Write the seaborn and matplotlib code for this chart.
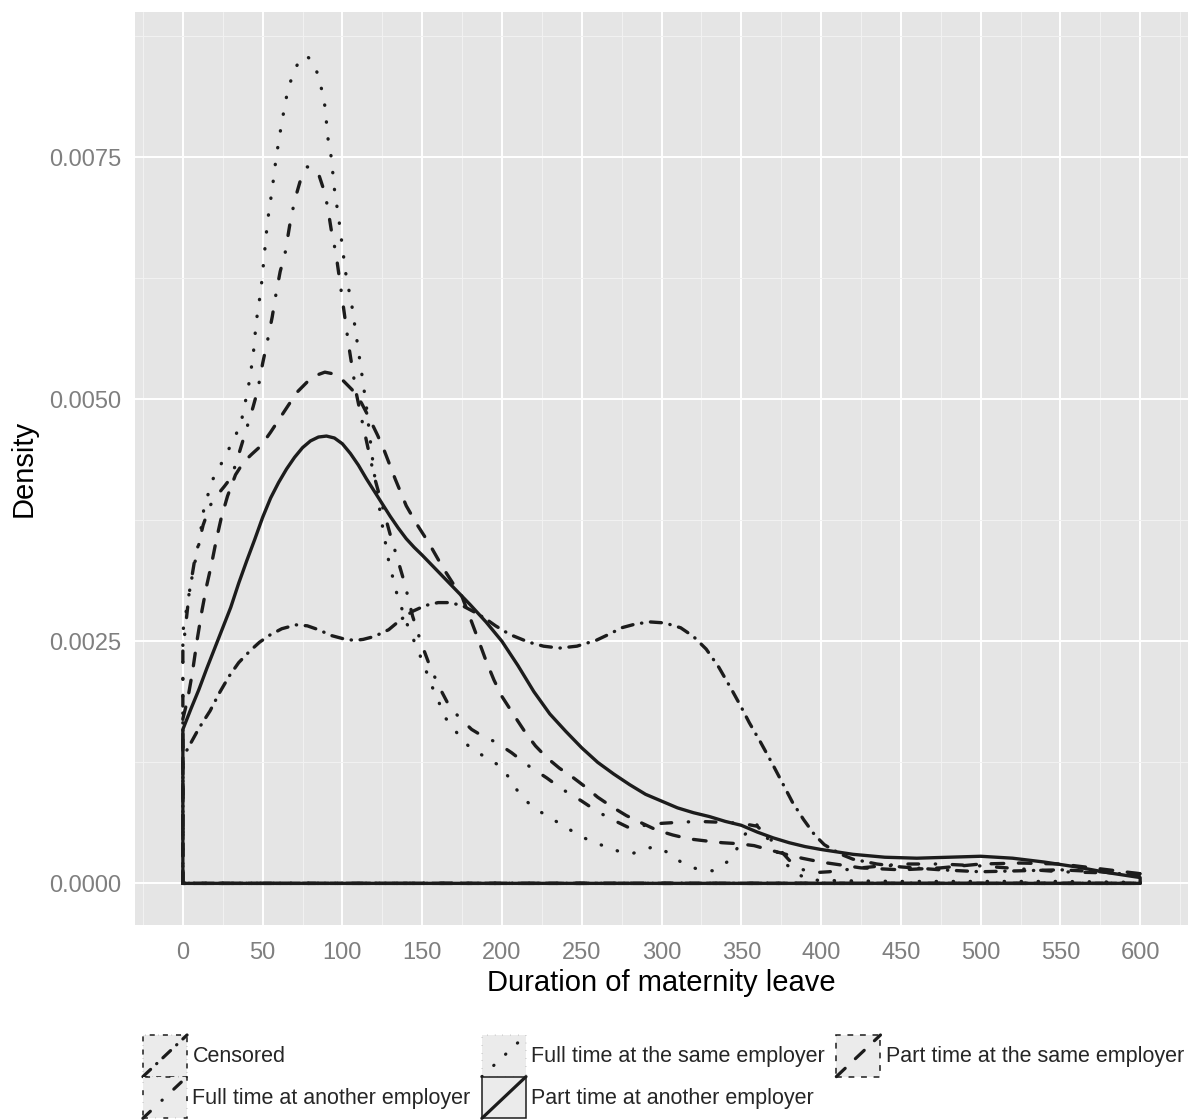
import numpy as np
import pandas as pd
import matplotlib
matplotlib.use("Agg")
import matplotlib.pyplot as plt
from matplotlib.legend_handler import HandlerBase
from matplotlib.patches import Rectangle
from matplotlib.lines import Line2D
import seaborn as sns

# Density curves (x = days, y = density)
groups = ["Censored", "Full time at another employer", "Full time at the same employer",
          "Part time at another employer", "Part time at the same employer"]

censored_x = [0, 5, 10, 17, 23, 29, 35, 42, 48, 54, 62, 71, 78, 85, 93, 102, 108, 113, 120, 129,
              137, 144, 152, 160, 167, 175, 183, 190, 196, 205, 217, 226, 236, 247, 259, 268,
              275, 284, 293, 302, 312, 320, 328, 336, 344, 350, 355, 362, 369, 376, 382, 389,
              396, 402, 407, 414, 420, 435, 450, 475, 500, 525, 550, 575, 600]
censored_y = [0.0013, 0.00145, 0.0016, 0.00178, 0.00197, 0.00214, 0.00228, 0.0024, 0.00249,
              0.00256, 0.00263, 0.00267, 0.00266, 0.00262, 0.00256, 0.00252, 0.00251, 0.00252,
              0.00255, 0.00262, 0.00273, 0.00281, 0.00287, 0.0029, 0.0029, 0.00287, 0.0028,
              0.00273, 0.00266, 0.00257, 0.00249, 0.00245, 0.00243, 0.00245, 0.00251, 0.00258,
              0.00264, 0.00268, 0.0027, 0.00269, 0.00264, 0.00255, 0.00242, 0.00223, 0.002,
              0.00182, 0.00166, 0.00146, 0.00125, 0.00103, 0.00084, 0.00066, 0.0005, 0.0004,
              0.00035, 0.00029, 0.00025, 0.0002, 0.00017, 0.00014, 0.00012, 0.00013, 0.00014,
              0.00012, 0.00008]

ft_other_x = [0, 2, 4, 7.5, 12.7, 17, 21, 26, 30.6, 35, 40, 44, 47, 50, 53, 56, 58.5, 61, 64, 67,
              70, 74, 78, 81, 85, 88, 90.6, 93, 96, 100, 104, 108.6, 112, 116, 120, 125, 130, 134,
              139, 144, 149, 154, 160, 167, 174, 181, 188, 196, 206, 217, 228, 238, 250, 260, 269,
              279, 290, 300, 310, 323, 339, 350, 360, 367, 374, 380, 387, 395, 405, 425, 450, 475,
              500, 525, 550, 575, 600]
ft_other_y = [0.0024, 0.0027, 0.003, 0.00335, 0.0037, 0.0039, 0.004, 0.0041, 0.0042, 0.00443,
              0.0047, 0.00492, 0.0051, 0.00537, 0.0056, 0.00585, 0.0061, 0.00632, 0.0065, 0.0068,
              0.00705, 0.00728, 0.0074, 0.0074, 0.00733, 0.00718, 0.007, 0.00675, 0.0065, 0.00603,
              0.00555, 0.00507, 0.0048, 0.0045, 0.0042, 0.0039, 0.0036, 0.00338, 0.0031, 0.00276,
              0.0025, 0.00228, 0.00205, 0.00183, 0.0017, 0.00159, 0.00152, 0.00146, 0.00135,
              0.00121, 0.00109, 0.00097, 0.00085, 0.00074, 0.00066, 0.00058, 0.0006, 0.00062,
              0.00063, 0.00064, 0.00063, 0.00062, 0.00059, 0.00048, 0.00035, 0.00024, 0.00015,
              0.00011, 0.00012, 0.00016, 0.0002, 0.0002, 0.00018, 0.00015, 0.00012, 0.00011,
              0.0001]

ft_same_x = [0, 2, 5, 8, 10, 13, 18, 23, 28, 33, 37, 41, 44, 46, 49, 51, 53, 56, 58.5, 62, 65.6,
             69, 73, 77, 81, 84, 87, 89, 91, 93, 95, 98, 102, 106, 109, 112, 115, 118, 121, 125,
             129, 134, 140, 145, 150, 157, 165, 172, 180, 190, 200, 206, 212, 220, 229, 238, 246,
             255, 265, 275, 282, 288, 295, 304, 313, 322, 332, 341, 347, 352, 359, 365, 370, 378,
             385, 392, 400, 450, 500, 550, 600]
ft_same_y = [0.0026, 0.0028, 0.0031, 0.00335, 0.0035, 0.00385, 0.00415, 0.0043, 0.00446, 0.00462,
             0.0048, 0.00512, 0.00544, 0.0058, 0.00614, 0.00648, 0.00683, 0.00717, 0.0075,
             0.00786, 0.00818, 0.00836, 0.0085, 0.00855, 0.0085, 0.00838, 0.0082, 0.00803,
             0.00769, 0.0075, 0.00717, 0.00683, 0.00631, 0.00596, 0.00562, 0.00528, 0.00493,
             0.0045, 0.0041, 0.0037, 0.00333, 0.003, 0.0027, 0.0025, 0.0023, 0.002, 0.0017,
             0.00155, 0.0014, 0.0013, 0.0012, 0.00105, 0.0009, 0.00078, 0.00069, 0.0006, 0.00052,
             0.00044, 0.00038, 0.00032, 0.00031, 0.00034, 0.00038, 0.00032, 0.00021, 0.00015,
             0.00013, 0.00022, 0.00035, 0.0005, 0.00062, 0.0005, 0.00038, 0.0002, 0.0001, 0.00004,
             0.00003, 0.00002, 0.00002, 0.00002, 0.00001]

pt_other_x = [0, 5, 10, 15, 20, 25, 30, 35, 40, 45, 50, 55, 60, 65, 70, 75, 80, 85, 90, 95, 100,
              105, 110, 115, 120, 125, 130, 135, 140, 145, 150, 160, 170, 180, 190, 200, 210, 220,
              230, 240, 250, 260, 270, 280, 290, 300, 310, 320, 330, 340, 350, 360, 370, 380, 390,
              400, 420, 440, 460, 480, 500, 520, 540, 560, 580, 600]
pt_other_y = [0.00159, 0.0018, 0.002, 0.00222, 0.00243, 0.00264, 0.00285, 0.0031, 0.00333,
              0.00355, 0.00378, 0.00398, 0.00414, 0.00428, 0.0044, 0.0045, 0.00457, 0.00461,
              0.00462, 0.0046, 0.00454, 0.00444, 0.00432, 0.00418, 0.00405, 0.00392, 0.00379,
              0.00367, 0.00356, 0.00347, 0.00339, 0.00322, 0.00305, 0.00288, 0.0027, 0.0025,
              0.00225, 0.00198, 0.00175, 0.00157, 0.0014, 0.00125, 0.00113, 0.00102, 0.00092,
              0.00085, 0.00078, 0.00073, 0.00069, 0.00064, 0.0006, 0.00053, 0.00047, 0.00042,
              0.00038, 0.00035, 0.0003, 0.00027, 0.00026, 0.00027, 0.00028, 0.00026, 0.00022,
              0.00017, 0.00011, 0.00006]

pt_same_x = [0, 3, 6, 9, 12, 15, 18, 21, 24, 28, 33, 38, 43, 49, 55, 61, 67, 72, 78, 84, 89, 95,
             100, 106, 112, 117, 122, 126, 133, 140, 147, 154, 163, 170, 175, 181, 186, 190, 195,
             200, 209, 215, 221, 228, 236, 244, 252, 260, 269, 278, 288, 297, 307, 317, 327, 338,
             348, 358, 369, 378, 388, 400, 425, 450, 475, 500, 525, 550, 575, 600]
pt_same_y = [0.0017, 0.0019, 0.00218, 0.00252, 0.00282, 0.00308, 0.0033, 0.00355, 0.00377, 0.004,
             0.00422, 0.00435, 0.00443, 0.00452, 0.00466, 0.00481, 0.00496, 0.00508, 0.00518,
             0.00525, 0.00528, 0.00526, 0.0052, 0.0051, 0.00496, 0.0048, 0.00463, 0.00448,
             0.00418, 0.0039, 0.0037, 0.00352, 0.00326, 0.00308, 0.00296, 0.0027, 0.00248,
             0.0023, 0.0021, 0.00193, 0.0017, 0.00155, 0.00142, 0.0013, 0.00119, 0.0011, 0.001,
             0.00089, 0.00079, 0.0007, 0.00062, 0.00055, 0.0005, 0.00046, 0.00044, 0.00042,
             0.00041, 0.00039, 0.00034, 0.0003, 0.00026, 0.00022, 0.00016, 0.00014, 0.00016,
             0.0002, 0.00021, 0.0002, 0.00015, 0.0001]

series_x = [censored_x, ft_other_x, ft_same_x, pt_other_x, pt_same_x]
series_y = [censored_y, ft_other_y, ft_same_y, pt_other_y, pt_same_y]

# line types (in units of line width)
dash_map = {
    "Censored": (3.3, 2.6, 0.1, 2.6),
    "Full time at another employer": (3.2, 5.0, 0.1, 5.0),
    "Full time at the same employer": (0.1, 5.0),
    "Part time at another employer": "",
    "Part time at the same employer": (3.8, 4.4),
}

# close each density like a polygon (down to zero at both ends)
frames = []
for name, xs, ys in zip(groups, series_x, series_y):
    xs = [xs[0]] + list(xs) + [xs[-1], xs[0]]
    ys = [0.0] + list(ys) + [0.0, 0.0]
    frames.append(pd.DataFrame({"x": xs, "y": ys, "Type": name}))
df = pd.concat(frames, ignore_index=True)

sns.set_style("darkgrid", {"axes.facecolor": "#E5E5E5", "grid.color": "white"})
plt.rcParams["font.family"] = ["Liberation Sans", "DejaVu Sans"]

ink = "#1c1c1c"
fig = plt.figure(figsize=(12.01, 11.2), dpi=100)
ax = fig.add_axes([0.1124, 0.1741, 0.8768, 0.8152])

sns.lineplot(data=df, x="x", y="y", style="Type", style_order=groups, dashes=dash_map,
             sort=False, estimator=None, color=ink, linewidth=2.4, ax=ax, legend=False,
             dash_capstyle="round", solid_joinstyle="round")

ax.set_xlim(-30, 630)
ax.set_ylim(-0.00043, 0.0090)
ax.set_xticks(np.arange(0, 601, 50))
ax.set_xticks(np.arange(-25, 630, 50), minor=True)
ax.set_yticks([0, 0.0025, 0.005, 0.0075])
ax.set_yticks([0.00125, 0.00375, 0.00625, 0.00875], minor=True)
ax.set_yticklabels(["0.0000", "0.0025", "0.0050", "0.0075"])
ax.grid(which="major", color="white", linewidth=1.4)
ax.grid(which="minor", color="#F2F2F2", linewidth=0.7)
ax.tick_params(which="major", length=6, width=1.2, color="#7F7F7F", labelcolor="#7F7F7F",
               labelsize=17, pad=4)
ax.tick_params(axis="x", which="major", pad=6)
ax.tick_params(which="minor", length=0)
for s in ax.spines.values():
    s.set_visible(False)
ax.set_xlabel("Duration of maternity leave", fontsize=21, labelpad=4, color="black")
ax.set_ylabel("Density", fontsize=21, labelpad=8, color="black")


class KeyBox(HandlerBase):
    def __init__(self, dashes):
        super().__init__()
        self.dashes = dashes

    def create_artists(self, legend, orig_handle, xdescent, ydescent, width, height,
                       fontsize, trans):
        ls = "-" if not self.dashes else (0, self.dashes)
        box = Rectangle((-xdescent, -ydescent), width, height, facecolor="#EBEBEB",
                        edgecolor=ink, linewidth=1.1, linestyle=ls, transform=trans)
        diag = Line2D([-xdescent, -xdescent + width], [-ydescent, -ydescent + height],
                      color=ink, linewidth=2.3, linestyle=ls, dash_capstyle="round",
                      transform=trans)
        return [box, diag]


handles = [Line2D([], [], color=ink) for _ in groups]
hmap = {h: KeyBox(dash_map[g]) for h, g in zip(handles, groups)}
fig.legend(handles, groups, handler_map=hmap, loc="upper left", bbox_to_anchor=(0.119, 0.0759),
           ncol=3, frameon=False, fontsize=15.5, handlelength=2.05, handleheight=2.6,
           handletextpad=0.25, columnspacing=0.52, labelspacing=0, borderpad=0,
           borderaxespad=0)

fig.savefig("out.png", dpi=100)
